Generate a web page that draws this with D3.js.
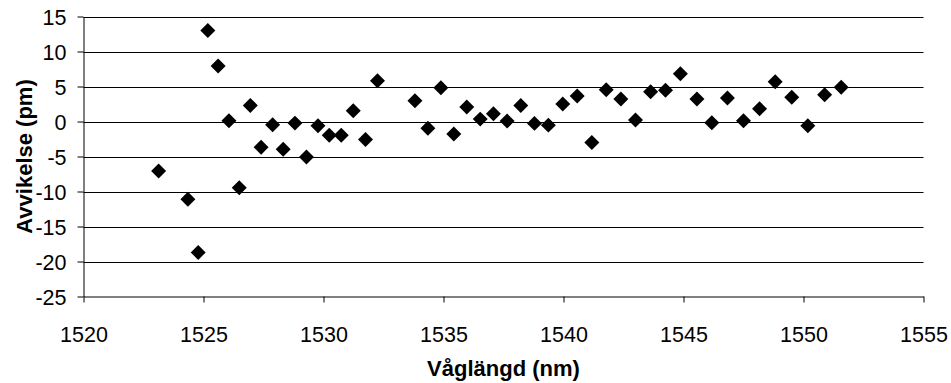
<!DOCTYPE html>
<html>
<head>
<meta charset="utf-8">
<script src="https://cdn.jsdelivr.net/npm/d3@7"></script>
<style>
  html, body { margin: 0; padding: 0; background: #fff; }
  svg { display: block; }
  text { font-family: "Liberation Sans", Arial, sans-serif; fill: #000; }
</style>
</head>
<body>
<svg id="chart" width="951" height="383"></svg>
<script>
// Wavelength (nm) and measured deviation (pm)
const wavelength = [
  1523.13, 1524.35, 1524.78, 1525.18, 1525.61, 1526.06, 1526.49, 1526.95, 1527.40, 1527.88,
  1528.32, 1528.81, 1529.29, 1529.77, 1530.24, 1530.74, 1531.24, 1531.75, 1532.25, 1533.81,
  1534.35, 1534.89, 1535.43, 1535.97, 1536.53, 1537.08, 1537.65, 1538.22, 1538.79, 1539.37,
  1539.97, 1540.57, 1541.18, 1541.78, 1542.39, 1543.00, 1543.63, 1544.25, 1544.87, 1545.56,
  1546.18, 1546.83, 1547.50, 1548.17, 1548.82, 1549.51, 1550.18, 1550.88, 1551.57
];
const deviation = [
  -7.06, -11.1, -18.7, 13.0, 7.94, 0.1, -9.45, 2.3, -3.67, -0.47,
  -3.95, -0.23, -5.06, -0.61, -1.95, -1.95, 1.53, -2.57, 5.83, 2.97,
  -0.95, 4.83, -1.8, 2.06, 0.34, 1.1, 0.06, 2.3, -0.27, -0.52,
  2.49, 3.64, -3.0, 4.54, 3.21, 0.2, 4.26, 4.46, 6.81, 3.21,
  -0.18, 3.35, 0.1, 1.82, 5.69, 3.45, -0.61, 3.83, 4.88
];
const xTicks = [1520, 1525, 1530, 1535, 1540, 1545, 1550, 1555];
const yTicks = [-25, -20, -15, -10, -5, 0, 5, 10, 15];
const xTitle = "Våglängd (nm)";
const yTitle = "Avvikelse (pm)";

const svg = d3.select("#chart");
const plot = { left: 83.5, right: 923.5, top: 16.5, bottom: 296.5 };
const tickFont = 21.5, titleFont = 22;

const x = d3.scaleLinear().domain([1520, 1555]).range([plot.left, plot.right]);
const y = d3.scaleLinear().domain([-25, 15]).range([plot.bottom, plot.top]);

// Horizontal gridlines
svg.append("g")
  .selectAll("line")
  .data(yTicks.filter(v => v !== -25))
  .join("line")
  .attr("x1", plot.left).attr("x2", plot.right)
  .attr("y1", d => Math.round(y(d)) + 0.5)
  .attr("y2", d => Math.round(y(d)) + 0.5)
  .attr("stroke", "#000").attr("stroke-width", 1);

// Axes (plain integer labels with ASCII hyphen for negatives)
const plain = d => String(d);
const yAxis = svg.append("g")
  .attr("transform", `translate(${plot.left},0)`)
  .call(d3.axisLeft(y).tickValues(yTicks).tickFormat(plain)
    .tickSize(6).tickPadding(11).tickSizeOuter(0));
const xAxis = svg.append("g")
  .attr("transform", `translate(0,${plot.bottom})`)
  .call(d3.axisBottom(x).tickValues(xTicks).tickFormat(plain)
    .tickSize(6).tickPadding(24).tickSizeOuter(0));

[yAxis, xAxis].forEach(g => {
  g.select(".domain").attr("stroke", "#000").attr("stroke-width", 1);
  g.selectAll(".tick line").attr("stroke", "#000");
  g.selectAll(".tick text")
    .attr("font-family", "'Liberation Sans', Arial, sans-serif")
    .attr("font-size", tickFont)
    .attr("fill", "#000");
});
yAxis.selectAll(".tick text").attr("dy", "0.36em");

// Axis titles
svg.append("text")
  .attr("x", (plot.left + plot.right) / 2)
  .attr("y", 376)
  .attr("text-anchor", "middle")
  .attr("font-size", titleFont)
  .attr("font-weight", "bold")
  .text(xTitle);

svg.append("text")
  .attr("transform", `translate(32,${(plot.top + plot.bottom) / 2}) rotate(-90)`)
  .attr("text-anchor", "middle")
  .attr("font-size", titleFont)
  .attr("font-weight", "bold")
  .text(yTitle);

// Diamond markers
const marker = d3.symbol().type(d3.symbolSquare).size(112);
svg.append("g")
  .selectAll("path")
  .data(wavelength.map((w, i) => ({ w, d: deviation[i] })))
  .join("path")
  .attr("d", marker)
  .attr("transform", p => `translate(${x(p.w)},${y(p.d)}) rotate(45)`)
  .attr("fill", "#000");
</script>
</body>
</html>
